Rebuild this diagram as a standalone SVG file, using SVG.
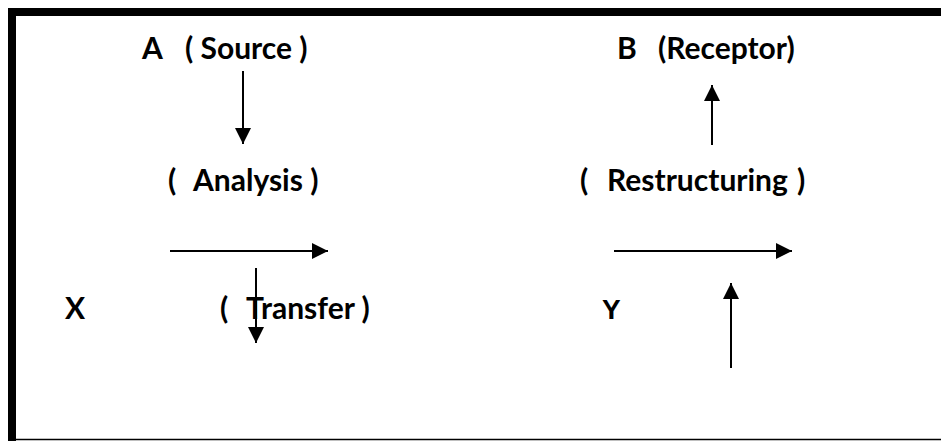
<svg xmlns="http://www.w3.org/2000/svg" width="941" height="441" viewBox="0 0 941 441">
<style>
.t{font-family:Lato,"Open Sans","Liberation Sans",sans-serif;font-weight:bold;font-size:30px;fill:#000}
.a{font-family:"Liberation Sans",Arial,sans-serif;font-weight:bold;font-size:28px;fill:#000}
.c{stroke:#000;stroke-width:2;fill:none;marker-end:url(#ah)}
</style>
<defs>
<marker id="ah" markerUnits="userSpaceOnUse" markerWidth="16" markerHeight="16" refX="16" refY="8" orient="auto" viewBox="0 0 16 16">
<path d="M0,0 L16,8 L0,16 Z" fill="#000"/>
</marker>
</defs>
<rect width="941" height="441" fill="#fff"/>
<g id="frame">
<rect x="8" y="8" width="933" height="8" fill="#000"/>
<rect x="8" y="8" width="8" height="433" fill="#000"/>
<line x1="8" y1="439.5" x2="941" y2="439.5" stroke="#000" stroke-width="1.5"/>
</g>
<g id="nodeA"><text class="t" y="59"><tspan x="142">A</tspan><tspan x="185">( Source )</tspan></text></g>
<g id="nodeAnalysis"><text class="t" y="191"><tspan x="168">(</tspan><tspan x="193">Analysis )</tspan></text></g>
<g id="nodeB"><text class="t" y="59"><tspan x="617">B</tspan><tspan x="658">(Receptor)</tspan></text></g>
<g id="nodeRestructuring"><text class="t" y="191"><tspan x="580">(</tspan><tspan x="607">Restructuring</tspan><tspan x="797">)</tspan></text></g>
<g id="nodeX"><text class="t" x="65" y="319">X</text></g>
<g id="nodeTransfer"><text class="t" y="319"><tspan x="220">(</tspan><tspan x="246">Transfer )</tspan></text></g>
<g id="nodeY"><text class="a" x="602" y="319">Y</text></g>
<g id="connectors">
<line class="c" x1="243" y1="71" x2="243" y2="144"/>
<line class="c" x1="712" y1="145" x2="712" y2="85"/>
<line class="c" x1="170" y1="251" x2="328" y2="251"/>
<line class="c" x1="256" y1="268" x2="256" y2="343"/>
<line class="c" x1="614" y1="251" x2="792" y2="251"/>
<line class="c" x1="731" y1="368" x2="731" y2="283"/>
</g>
</svg>
